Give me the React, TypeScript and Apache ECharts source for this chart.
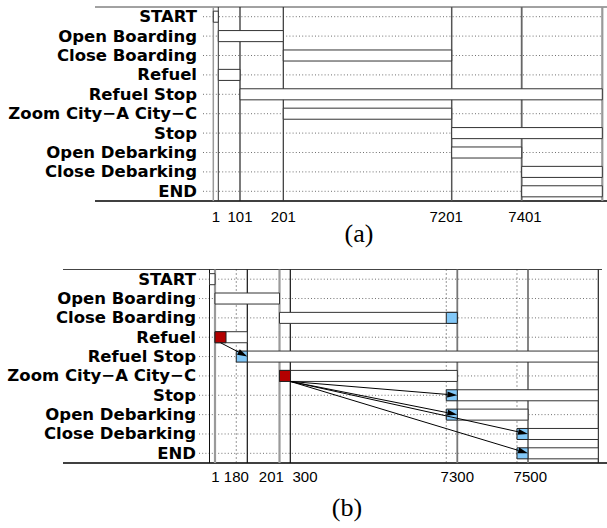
import React, { useEffect, useRef } from 'react';
import * as echarts from 'echarts';

// ---------------- DATA ----------------
const ZC = 'Zoom City−A City−C';
const rows = ['START', 'Open Boarding', 'Close Boarding', 'Refuel', 'Refuel Stop', ZC, 'Stop', 'Open Debarking', 'Close Debarking', 'END'];

// panel (a): event times, tick labels, span of each row (null = open until the end)
const eventTimesA = [0, 1, 101, 201, 7201, 7401];
const tickLabelsA = [1, 101, 201, 7201, 7401];
const spanStartA = [0, 1, 201, 1, 101, 201, 7201, 7201, 7401, 7401];
const spanEndA: (number | null)[] = [1, 201, 7201, 101, null, 7201, null, 7401, null, null];

// panel (b)
const eventTimesB = [0, 1, 180, 201, 300, 7300, 7500];
const tickLabelsB = [1, 180, 201, 300, 7300, 7500];
const spanStartB = [0, 1, 201, 1, 180, 201, 7300, 7300, 7500, 7500];
const spanEndB: (number | null)[] = [1, 201, 7300, 180, null, 7300, null, 7500, null, null];
const startMarkRowsB = ['Refuel', ZC];
const startMarkTimesB = [1, 201];
const endMarkRowsB = ['Refuel Stop', 'Close Boarding', 'Stop', 'Open Debarking', 'Close Debarking', 'END'];
const endMarkTimesB = [180, 7300, 7300, 7300, 7500, 7500];
const arrowFromRowsB = ['Refuel', ZC, ZC, ZC, ZC];
const arrowFromTimesB = [1, 300, 300, 300, 300];
const arrowToRowsB = ['Refuel Stop', 'Stop', 'Open Debarking', 'Close Debarking', 'END'];
const arrowToTimesB = [180, 7300, 7300, 7500, 7500];

// ---------------- LAYOUT (compressed time scale) ----------------
type Scale = { knots: number[]; at: number[]; max: number };
const SCALE_A: Scale = { knots: eventTimesA, at: [10.3, 15.3, 37, 80.3, 248.7, 318.7], max: 399.3 };
const SCALE_B: Scale = { knots: eventTimesB, at: [10.5, 16, 48.3, 80.5, 91.3, 258.3, 329], max: 399.3 };
const LABEL_SHIFT_A: Record<number, number> = { 1: -2.5, 7201: -5.5, 7401: 3.3 };
const LABEL_SHIFT_B: Record<number, number> = { 1: 0.5, 180: -11, 201: -8.2, 300: 14.7, 7500: 2.3 };
const VSTYLE_A: [string, number][] = [['#9a9a9a', 1.5], ['#333', 1], ['#222', 1.2], ['#333', 1.2], ['#555', 1.5], ['#666', 1.8], ['#999', 2.2]];
const VSTYLE_B: [string, number][] = [['#111', 1], ['#9a9a9a', 2.2], ['#111', 1.2], ['#9a9a9a', 2.2], ['#111', 1.2], ['#777', 1.8], ['#777', 1.8], ['#222', 1.2]];
const BOX_RATIO = 0.57;
const RED = '#b30000';
const BLUE = '#82c8f8';

function toX(s: Scale, t: number | null): number {
  if (t === null) return s.max;
  const k = s.knots;
  for (let i = 0; i < k.length; i++) if (k[i] === t) return s.at[i];
  for (let i = 0; i < k.length - 1; i++) {
    if (t > k[i] && t < k[i + 1]) return s.at[i] + ((s.at[i + 1] - s.at[i]) * (t - k[i])) / (k[i + 1] - k[i]);
  }
  return s.max;
}

function boxH(cs: any) {
  return (cs.height / rows.length) * BOX_RATIO;
}

function panelAxes(p: number, scale: Scale, ticks: number[], shift: Record<number, number>, labelMargin: number, yMargin: number) {
  const labelPos = ticks.map((t) => toX(scale, t) + (shift[t] || 0));
  const xAxis = {
    type: 'value',
    gridIndex: p,
    min: 0,
    max: scale.max,
    axisLine: { show: false },
    axisTick: { show: false },
    splitLine: { show: false },
    axisLabel: {
      customValues: labelPos,
      formatter: (v: number) => {
        let best = 0;
        for (let i = 1; i < labelPos.length; i++) if (Math.abs(labelPos[i] - v) < Math.abs(labelPos[best] - v)) best = i;
        return String(ticks[best]);
      },
      fontFamily: 'Liberation Sans',
      fontSize: 15,
      color: '#000',
      margin: labelMargin,
    },
  };
  const yAxis = {
    type: 'category',
    gridIndex: p,
    data: rows,
    inverse: true,
    axisLine: { show: false },
    axisTick: { show: false },
    splitLine: { show: false },
    axisLabel: {
      interval: 0,
      fontFamily: 'DejaVu Sans',
      fontWeight: 'bold',
      fontSize: 16.5,
      lineHeight: 17,
      color: '#000',
      margin: yMargin,
    },
  };
  return { xAxis, yAxis };
}

function panelSeries(p: number, scale: Scale, times: number[], spanStart: number[], spanEnd: (number | null)[], vstyles: [string, number][]) {
  const X = (t: number | null) => toX(scale, t);
  const base = { type: 'custom', xAxisIndex: p, yAxisIndex: p, silent: true, clip: false, animation: false };
  const series: any[] = [];
  // dotted row guides
  series.push({
    ...base,
    z: 1,
    encode: { x: 1, y: 0 },
    data: rows.map((_, r) => [r, 0]),
    renderItem: (params: any, api: any) => {
      const cs = params.coordSys;
      const y = api.coord([0, api.value(0)])[1];
      return { type: 'line', shape: { x1: cs.x, y1: y, x2: cs.x + cs.width, y2: y }, style: { stroke: '#707070', lineWidth: 1, lineDash: [1, 2.2] } };
    },
  });
  // vertical event lines (last = end of timeline)
  const vt: (number | null)[] = [...times, null];
  series.push({
    ...base,
    z: 2,
    encode: { x: 1, y: 0 },
    data: vt.map((t) => [0, X(t)]),
    renderItem: (params: any, api: any) => {
      const cs = params.coordSys;
      const x = api.coord([api.value(1), 0])[0];
      const st = vstyles[params.dataIndex] || ['#333', 1];
      return { type: 'line', shape: { x1: x, y1: cs.y, x2: x, y2: cs.y + cs.height }, style: { stroke: st[0], lineWidth: st[1] } };
    },
  });
  // boxes
  series.push({
    ...base,
    z: 3,
    encode: { x: [1, 2], y: 0 },
    data: rows.map((_, r) => [r, X(spanStart[r]), X(spanEnd[r])]),
    renderItem: (params: any, api: any) => {
      const h = boxH(params.coordSys);
      const r = api.value(0);
      const a = api.coord([api.value(1), r]);
      const b = api.coord([api.value(2), r]);
      return { type: 'rect', shape: { x: a[0], y: a[1] - h / 2, width: b[0] - a[0], height: h }, style: { fill: '#fff', stroke: '#333', lineWidth: 1 } };
    },
  });
  return series;
}

function markSeriesB(): any[] {
  const X = (t: number | null) => toX(SCALE_B, t);
  const base = { type: 'custom', xAxisIndex: 1, yAxisIndex: 1, silent: true, clip: false, animation: false };
  const uniqEnd = Array.from(new Set(endMarkTimesB));
  const hasStartMark = (row: string, t: number) => startMarkRowsB.some((n, i) => n === row && startMarkTimesB[i] === t);
  return [
    // dotted guides at the left edge of each end marker
    {
      ...base,
      z: 2,
      encode: { x: 1, y: 0 },
      data: uniqEnd.map((t) => [0, X(t)]),
      renderItem: (params: any, api: any) => {
        const cs = params.coordSys;
        const x = api.coord([api.value(1), 0])[0] - boxH(cs);
        return { type: 'line', shape: { x1: x, y1: cs.y, x2: x, y2: cs.y + cs.height }, style: { stroke: '#333', lineWidth: 1, lineDash: [1, 3] } };
      },
    },
    // markers
    {
      ...base,
      z: 4,
      encode: { x: 1, y: 0 },
      data: [
        ...startMarkRowsB.map((n, i) => [rows.indexOf(n), X(startMarkTimesB[i]), 0]),
        ...endMarkRowsB.map((n, i) => [rows.indexOf(n), X(endMarkTimesB[i]), 1]),
      ],
      renderItem: (params: any, api: any) => {
        const h = boxH(params.coordSys);
        const kind = api.value(2);
        const p = api.coord([api.value(1), api.value(0)]);
        const left = kind === 0 ? p[0] : p[0] - h;
        return { type: 'rect', shape: { x: left, y: p[1] - h / 2, width: h, height: h }, style: { fill: kind === 0 ? RED : BLUE, stroke: '#222', lineWidth: 1 } };
      },
    },
    // arrows
    {
      ...base,
      z: 5,
      encode: { x: [1, 3], y: [0, 2] },
      data: arrowFromRowsB.map((n, i) => [
        rows.indexOf(n),
        X(arrowFromTimesB[i]),
        rows.indexOf(arrowToRowsB[i]),
        X(arrowToTimesB[i]),
        hasStartMark(n, arrowFromTimesB[i]) ? 1 : 0,
      ]),
      renderItem: (params: any, api: any) => {
        const h = boxH(params.coordSys);
        const a = api.coord([api.value(1), api.value(0)]);
        const b = api.coord([api.value(3), api.value(2)]);
        const sx = a[0] + (api.value(4) ? h / 2 : 0);
        const sy = a[1] + h / 2;
        const ex = b[0];
        const ey = b[1];
        const ang = Math.atan2(ey - sy, ex - sx);
        const L = 10;
        const W = 3;
        const bx = ex - L * Math.cos(ang);
        const by = ey - L * Math.sin(ang);
        const px = -Math.sin(ang);
        const py = Math.cos(ang);
        return {
          type: 'group',
          children: [
            { type: 'line', shape: { x1: sx, y1: sy, x2: bx, y2: by }, style: { stroke: '#000', lineWidth: 1 } },
            { type: 'polygon', shape: { points: [[ex, ey], [bx + W * px, by + W * py], [bx - W * px, by - W * py]] }, style: { fill: '#000' } },
          ],
        };
      },
    },
  ];
}

function buildOption() {
  const A = panelAxes(0, SCALE_A, tickLabelsA, LABEL_SHIFT_A, 8, 6);
  const B = panelAxes(1, SCALE_B, tickLabelsB, LABEL_SHIFT_B, 6, 3);
  const rule = (x1: number, y: number, x2: number, stroke: string, w: number) => ({
    type: 'line',
    silent: true,
    shape: { x1, y1: y, x2, y2: y },
    style: { stroke, lineWidth: w },
  });
  const caption = (text: string, x: number, y: number) => ({
    type: 'text',
    silent: true,
    x,
    y,
    style: {
      text,
      font: '26px "Liberation Serif"',
      fill: '#000',
      align: 'center',
      verticalAlign: 'middle',
      textAlign: 'center',
      textVerticalAlign: 'middle',
    },
  });
  return {
    animation: false,
    backgroundColor: '#fff',
    grid: [
      { left: 203, top: 7, width: 399.3, height: 194, outerBoundsMode: 'none' },
      { left: 199, top: 269.5, width: 399.3, height: 193.5, outerBoundsMode: 'none' },
    ],
    xAxis: [A.xAxis, B.xAxis],
    yAxis: [A.yAxis, B.yAxis],
    series: [
      ...panelSeries(0, SCALE_A, eventTimesA, spanStartA, spanEndA, VSTYLE_A),
      ...panelSeries(1, SCALE_B, eventTimesB, spanStartB, spanEndB, VSTYLE_B),
      ...markSeriesB(),
    ],
    graphic: [
      rule(95, 7, 607, '#444', 1),
      rule(95, 201, 607, '#000', 1.5),
      rule(63, 269.5, 602, '#444', 1),
      rule(63, 463, 607, '#000', 1.5),
      caption('(a)', 359, 233),
      caption('(b)', 347, 507),
    ],
  };
}

export default function App() {
  const ref = useRef<HTMLDivElement>(null);
  useEffect(() => {
    if (!ref.current) return;
    const chart = echarts.init(ref.current, null, { renderer: 'svg' });
    chart.setOption(buildOption() as any);
    return () => chart.dispose();
  }, []);
  return <div ref={ref} style={{ position: 'fixed', left: 0, top: 0, width: 607, height: 528, background: '#fff' }} />;
}
